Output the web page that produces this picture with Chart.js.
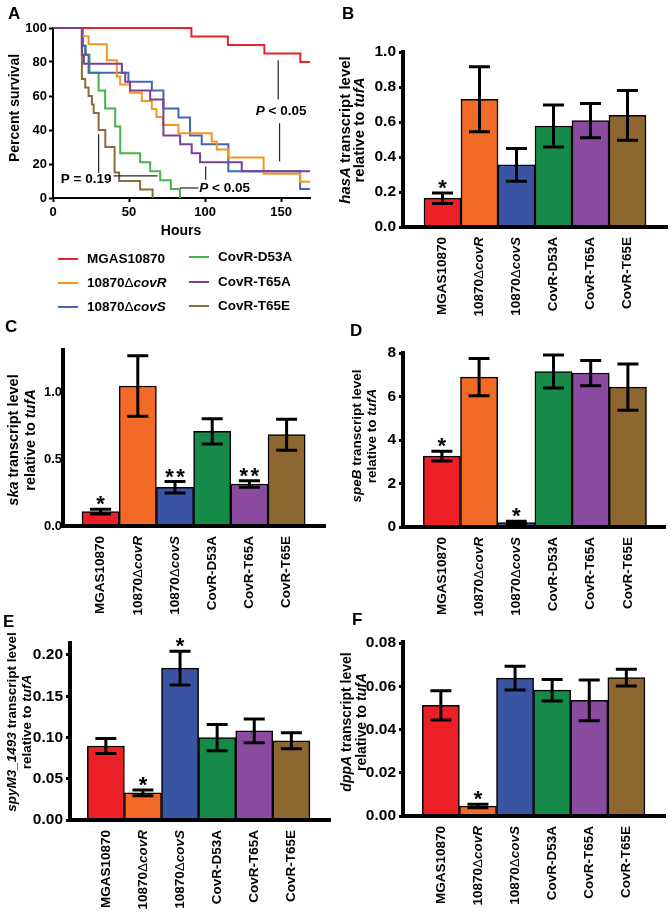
<!DOCTYPE html>
<html>
<head>
<meta charset="utf-8">
<script src="https://cdn.jsdelivr.net/npm/chart.js@4.4.1/dist/chart.umd.min.js"></script>
<style>
  html, body { margin: 0; padding: 0; background: #fff; }
  body { width: 671px; height: 914px; position: relative; overflow: hidden; }
  canvas { position: absolute; }
</style>
</head>
<body>
<canvas id="panelA" width="335" height="320" style="left:0;top:0"></canvas>
<canvas id="panelB" width="336" height="320" style="left:335px;top:0"></canvas>
<canvas id="panelC" width="335" height="310" style="left:0;top:310px"></canvas>
<canvas id="panelD" width="336" height="310" style="left:335px;top:310px"></canvas>
<canvas id="panelE" width="335" height="309" style="left:0;top:605px"></canvas>
<canvas id="panelF" width="336" height="309" style="left:335px;top:605px"></canvas>
<script>
const FONT = '"Liberation Sans", Arial, Helvetica, sans-serif';
Chart.defaults.font.family = FONT;
Chart.defaults.font.weight = 'bold';
Chart.defaults.color = '#000';
Chart.defaults.animation = false;

// strains, {..} = italic part
const strains = ['MGAS10870', '10870Δ{covR}', '10870Δ{covS}', 'CovR-D53A', 'CovR-T65A', 'CovR-T65E'];
const lineColors = ['#e8232b', '#f7941e', '#4267b2', '#44b549', '#7b3f98', '#8c6b3e'];
const barColors = ['#ec2027', '#f26a25', '#3a54a4', '#168a48', '#8a4a9f', '#8d6630'];

// panel A: Kaplan-Meier survival, [hours, percent]
const survMGAS = [[0, 100], [91, 95], [115, 90], [139, 85], [162.6, 80], [169, 80]];
const survCovR = [[0, 100], [19.5, 95.2], [23.4, 90.5], [35.4, 81], [42, 71.4], [44.2, 66.7], [50.7, 61.9],
  [58.4, 57.1], [65, 52.4], [68, 47.6], [72.3, 42.9], [82.5, 38.1], [104.4, 33.3], [107.7, 28.6],
  [115.3, 23.8], [138.5, 14.3], [162.5, 9.5], [169, 9.5]];
const survCovS = [[0, 100], [19.7, 89.5], [21.5, 84.2], [23.4, 73.7], [49.6, 68.4], [65, 63.2], [72.6, 52.6],
  [82.5, 47.4], [90.1, 36.8], [97.8, 31.6], [115.3, 15.8], [162.5, 5.3], [169, 5.3]];
const survD53A = [[0, 100], [19, 89.5], [21, 84.2], [24, 73.7], [30, 63.2], [34.3, 52.6], [40.9, 42.1],
  [44.2, 26.3], [57.3, 21.1], [63.9, 15.8], [70.5, 10.5], [77.5, 5.3], [83.5, 0]];
const survT65A = [[0, 100], [19, 84.2], [20.3, 78.9], [45.3, 73.7], [47.5, 68.4], [50.7, 63.2], [63.9, 57.9],
  [72.6, 36.8], [83.6, 31.6], [91.2, 26.3], [96.7, 21.1], [124.1, 15.8], [169, 15.8]];
const survT65E = [[0, 100], [19, 70], [21.2, 65], [23.4, 60], [25.6, 55], [26.7, 50], [30, 40], [34.4, 30],
  [40.5, 15], [43.5, 10], [57.3, 5], [65.5, 0]];
const survSets = [survMGAS, survCovR, survCovS, survD53A, survT65A, survT65E];

// p-value notes in panel A, in hours / percent
const pLines = [[[148.1, 81], [148.1, 58]], [[149, 44], [149, 21.5]], [[30, 37.5], [30, 14.8]],
  [[39.8, 13], [68.7, 13]], [[83.6, 5.9], [95.6, 5.9]], [[100.4, 18.5], [100.4, 10.7]]];
const pTexts = [['{P} < 0.05', 150, 50.8], ['P = 0.19', 21.8, 11.1], ['{P} < 0.05', 112.9, 5.9]];

// panels B-F: mean, error, number of asterisks
const hasAMean = [0.165, 0.73, 0.355, 0.577, 0.608, 0.638];
const hasAErr = [0.03, 0.186, 0.094, 0.12, 0.098, 0.142];
const hasAStars = [1, 0, 0, 0, 0, 0];
const skaMean = [0.108, 1.05, 0.29, 0.71, 0.315, 0.685];
const skaErr = [0.018, 0.226, 0.043, 0.095, 0.025, 0.116];
const skaStars = [1, 0, 2, 0, 2, 0];
const speBMean = [3.26, 6.89, 0.2, 7.15, 7.08, 6.43];
const speBErr = [0.22, 0.86, 0.07, 0.76, 0.58, 1.06];
const speBStars = [1, 0, 1, 0, 0, 0];
const spyMean = [0.0897, 0.033, 0.184, 0.0998, 0.108, 0.096];
const spyErr = [0.009, 0.0035, 0.0205, 0.016, 0.0143, 0.0097];
const spyStars = [0, 1, 1, 0, 0, 0];
const dppAMean = [0.0512, 0.0046, 0.0638, 0.0582, 0.0535, 0.064];
const dppAErr = [0.0068, 0.0008, 0.0055, 0.005, 0.0094, 0.0039];
const dppAStars = [0, 1, 0, 0, 0, 0];

function richRuns(text) {
  const runs = [];
  text.split(/(\{[^}]*\})/).forEach(part => {
    if (!part) return;
    if (part[0] === '{') { runs.push({ t: part.slice(1, -1), italic: true }); return; }
    part.split(/(Δ)/).forEach(p => { if (p) runs.push({ t: p, thin: p === 'Δ' }); });
  });
  return runs;
}

function drawRich(ctx, text, x, y, size, align) {
  const runs = richRuns(text);
  let w = 0;
  runs.forEach(r => {
    r.font = `${r.italic ? 'italic ' : ''}${r.thin ? 'normal' : 'bold'} ${size}px ${FONT}`;
    ctx.font = r.font;
    r.w = ctx.measureText(r.t).width;
    w += r.w;
  });
  let cx = align === 'center' ? x - w / 2 : align === 'right' ? x - w : x;
  ctx.textAlign = 'left';
  ctx.textBaseline = 'middle';
  runs.forEach(r => { ctx.font = r.font; ctx.fillText(r.t, cx, y); cx += r.w; });
}

function drawRotated(ctx, text, x, y, size, align) {
  ctx.save();
  ctx.translate(x, y);
  ctx.rotate(-Math.PI / 2);
  drawRich(ctx, text, 0, 0, size, align);
  ctx.restore();
}

function drawLetter(ctx, letter, x, y) {
  ctx.font = `bold 17px ${FONT}`;
  ctx.textAlign = 'left';
  ctx.textBaseline = 'alphabetic';
  ctx.fillText(letter, x, y);
}

// ---- panel A ----
const areaA = { left: 53, right: 310, top: 28, bottom: 198 };

const survivalExtras = {
  id: 'survivalExtras',
  afterDraw(chart) {
    const { ctx, scales: { x, y } } = chart;
    ctx.save();
    ctx.fillStyle = '#000';
    ctx.strokeStyle = '#222';
    ctx.lineWidth = 1.2;
    pLines.forEach(([[x1, y1], [x2, y2]]) => {
      ctx.beginPath();
      ctx.moveTo(x.getPixelForValue(x1), y.getPixelForValue(y1));
      ctx.lineTo(x.getPixelForValue(x2), y.getPixelForValue(y2));
      ctx.stroke();
    });
    pTexts.forEach(([t, hx, py]) => drawRich(ctx, t, x.getPixelForValue(hx), y.getPixelForValue(py), 13.5, 'center'));

    drawRotated(ctx, 'Percent survival', 15, 108, 14, 'center');
    drawRich(ctx, 'Hours', 181, 231, 14, 'center');

    strains.forEach((s, i) => {
      const col = Math.floor(i / 3), row = i % 3;
      const lx = [58, 189][col], tx = [87, 218][col];
      const ly = [[259, 283, 307], [257, 282, 306]][col][row];
      ctx.strokeStyle = lineColors[i];
      ctx.lineWidth = 2;
      ctx.beginPath();
      ctx.moveTo(lx, ly);
      ctx.lineTo(lx + 20, ly);
      ctx.stroke();
      drawRich(ctx, s, tx, ly, 13.5, 'left');
    });
    drawLetter(ctx, 'A', 8, 19);
    ctx.restore();
  }
};

new Chart(document.getElementById('panelA'), {
  type: 'line',
  data: {
    datasets: survSets.map((pts, i) => ({
      label: strains[i],
      data: pts.map(([x, y]) => ({ x, y })),
      borderColor: lineColors[i],
      borderWidth: 2,
      pointRadius: 0,
      stepped: true,
      fill: false,
      clip: 4,
      order: i === 4 ? 0 : i + 1
    }))
  },
  options: {
    responsive: false,
    devicePixelRatio: 1,
    layout: { padding: { left: 0, top: areaA.top, right: 335 - areaA.right, bottom: 0 } },
    plugins: { legend: { display: false }, tooltip: { enabled: false } },
    scales: {
      x: {
        type: 'linear', min: 0, max: 169,
        afterFit: s => { s.height = 320 - areaA.bottom; },
        ticks: { stepSize: 50, includeBounds: false, padding: 3, maxRotation: 0, font: { size: 13, weight: 'bold' } },
        grid: { drawOnChartArea: false, tickLength: 4, tickWidth: 2, tickColor: '#000' },
        border: { width: 2, color: '#000' }
      },
      y: {
        min: 0, max: 100,
        afterFit: s => { s.width = areaA.left; },
        ticks: { stepSize: 20, includeBounds: false, padding: 2, font: { size: 13, weight: 'bold' } },
        grid: { drawOnChartArea: false, tickLength: 4, tickWidth: 2, tickColor: '#000' },
        border: { width: 2, color: '#000' }
      }
    }
  },
  plugins: [survivalExtras]
});

// ---- bar panels ----
function barPanel(cfg) {
  const { id, box, area, barStart, barW, mean, err, stars } = cfg;
  const xMin = -0.5 - (barStart - area.left) / barW;
  const xMax = xMin + (area.right - area.left) / barW;

  const extras = {
    id: 'barExtras',
    afterDatasetsDraw(chart) {
      const { ctx, scales: { x, y } } = chart;
      ctx.save();
      ctx.strokeStyle = '#000';
      ctx.fillStyle = '#000';
      ctx.lineWidth = 3;
      mean.forEach((m, i) => {
        const px = x.getPixelForValue(i);
        const yt = y.getPixelForValue(m + err[i]);
        const yb = y.getPixelForValue(m - err[i]);
        ctx.beginPath();
        ctx.moveTo(px, yt); ctx.lineTo(px, yb);
        ctx.moveTo(px - 10.5, yt); ctx.lineTo(px + 10.5, yt);
        ctx.moveTo(px - 10.5, yb); ctx.lineTo(px + 10.5, yb);
        ctx.stroke();
        ctx.font = `bold 22px ${FONT}`;
        ctx.textAlign = 'center';
        ctx.textBaseline = 'alphabetic';
        for (let k = 0; k < stars[i]; k++) {
          ctx.fillText('*', px + (k - (stars[i] - 1) / 2) * 11, yt + 2);
        }
      });
      ctx.restore();
    },
    afterDraw(chart) {
      const { ctx, scales: { x } } = chart;
      ctx.save();
      ctx.fillStyle = '#000';
      strains.forEach((s, i) => {
        drawRotated(ctx, s, x.getPixelForValue(i), area.bottom - box.top + 10, 13.5, 'right');
      });
      cfg.title.forEach((t, k) => {
        drawRotated(ctx, t, cfg.titleX[k] - box.left, cfg.titleY - box.top, cfg.titleSize, 'center');
      });
      drawLetter(ctx, cfg.letter, cfg.letterPos[0] - box.left, cfg.letterPos[1] - box.top);
      ctx.restore();
    }
  };

  new Chart(document.getElementById(id), {
    type: 'bar',
    data: {
      datasets: [{
        data: mean.map((v, i) => ({ x: i, y: v })),
        backgroundColor: barColors,
        borderColor: '#000',
        borderWidth: 1.5,
        barPercentage: 1,
        categoryPercentage: 1
      }]
    },
    options: {
      responsive: false,
      devicePixelRatio: 1,
      layout: { padding: { left: 0, top: area.top - box.top, right: box.left + box.w - area.right, bottom: 0 } },
      plugins: { legend: { display: false }, tooltip: { enabled: false } },
      scales: {
        x: {
          type: 'linear', min: xMin, max: xMax, offset: false,
          afterFit: s => { s.height = box.top + box.h - area.bottom; },
          ticks: { display: false, stepSize: 1, includeBounds: false },
          grid: { display: false },
          border: { width: 4, color: '#000', z: 1 }
        },
        y: {
          min: 0, max: cfg.yMax,
          afterFit: s => { s.width = area.left - box.left; },
          ticks: {
            stepSize: cfg.yStep, includeBounds: false, padding: cfg.tickPad,
            font: { size: cfg.tickSize, weight: 'bold' },
            callback: v => v.toFixed(cfg.yDigits)
          },
          grid: { drawOnChartArea: false, drawTicks: cfg.tickLen > 0, tickLength: cfg.tickLen, tickWidth: 3, tickColor: '#000' },
          border: { width: 4, color: '#000', z: 1 }
        }
      }
    },
    plugins: [extras]
  });
}

barPanel({
  id: 'panelB', box: { left: 335, top: 0, w: 336, h: 320 },
  area: { left: 403, right: 667, top: 52, bottom: 227 }, barStart: 424, barW: 37,
  mean: hasAMean, err: hasAErr, stars: hasAStars,
  yMax: 1, yStep: 0.2, yDigits: 1, tickSize: 15.5, tickLen: 4, tickPad: 3,
  title: ['{hasA} transcript level', 'relative to {tufA}'], titleX: [346, 360], titleY: 130, titleSize: 15,
  letter: 'B', letterPos: [342, 19]
});

barPanel({
  id: 'panelC', box: { left: 0, top: 310, w: 335, h: 310 },
  area: { left: 63, right: 325, top: 350, bottom: 526 }, barStart: 82, barW: 37.2,
  mean: skaMean, err: skaErr, stars: skaStars,
  yMax: 1.32, yStep: 0.5, yDigits: 1, tickSize: 13, tickLen: 0, tickPad: 1,
  title: ['{ska} transcript level', 'relative to {tufA}'], titleX: [14, 31], titleY: 440, titleSize: 14.5,
  letter: 'C', letterPos: [5, 332]
});

barPanel({
  id: 'panelD', box: { left: 335, top: 310, w: 336, h: 310 },
  area: { left: 403, right: 665, top: 353, bottom: 527 }, barStart: 423.3, barW: 37.2,
  mean: speBMean, err: speBErr, stars: speBStars,
  yMax: 8, yStep: 2, yDigits: 0, tickSize: 15.5, tickLen: 4, tickPad: 3,
  title: ['{speB} transcript level', 'relative to {tufA}'], titleX: [357, 372], titleY: 436, titleSize: 13.5,
  letter: 'D', letterPos: [350, 336]
});

barPanel({
  id: 'panelE', box: { left: 0, top: 605, w: 335, h: 309 },
  area: { left: 70, right: 330, top: 643, bottom: 820 }, barStart: 87.3, barW: 37.1,
  mean: spyMean, err: spyErr, stars: spyStars,
  yMax: 0.2145, yStep: 0.05, yDigits: 2, tickSize: 15.5, tickLen: 4, tickPad: 3,
  title: ['{spyM3_1493} transcript level', 'relative to {tufA}'], titleX: [12, 27], titleY: 722, titleSize: 13.5,
  letter: 'E', letterPos: [3, 627]
});

barPanel({
  id: 'panelF', box: { left: 335, top: 605, w: 336, h: 309 },
  area: { left: 403, right: 665, top: 642, bottom: 816 }, barStart: 422.3, barW: 37.1,
  mean: dppAMean, err: dppAErr, stars: dppAStars,
  yMax: 0.0805, yStep: 0.02, yDigits: 2, tickSize: 15.5, tickLen: 4, tickPad: 3,
  title: ['{dppA} transcript level', 'relative to {tufA}'], titleX: [347, 362], titleY: 722, titleSize: 14,
  letter: 'F', letterPos: [352, 625]
});
</script>
</body>
</html>
